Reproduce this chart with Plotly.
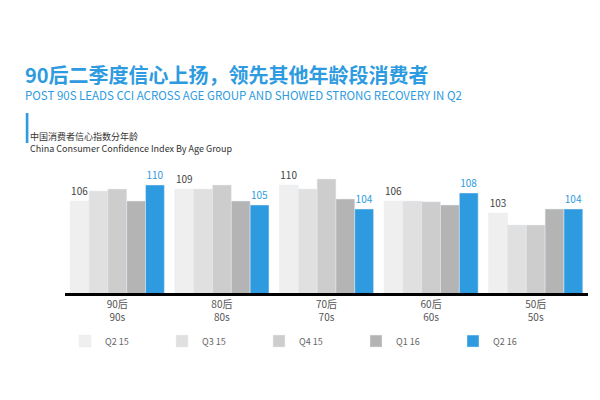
import plotly.graph_objects as go

groups = ['90后<br>90s', '80后<br>80s', '70后<br>70s', '60后<br>60s', '50后<br>50s']
quarters = ['Q2 15', 'Q3 15', 'Q4 15', 'Q1 16', 'Q2 16']
colors = ['#efefef', '#e0e0e0', '#cdcdcd', '#b4b4b4', '#2e9be0']

q2_15 = [106, 109, 110, 106, 103]
q3_15 = [108.5, 109, 109, 106, 100]
q4_15 = [109, 110, 111.5, 105.8, 100]
q1_16 = [106, 106, 106.5, 105, 104]
q2_16 = [110, 105, 104, 108, 104]
series = [q2_15, q3_15, q4_15, q1_16, q2_16]

fig = go.Figure()
for i, (name, vals) in enumerate(zip(quarters, series)):
    show_text = i in (0, 4)
    fig.add_trace(go.Bar(
        x=groups, y=vals, name=name, marker_color=colors[i],
        text=[f'{v:.0f}' for v in vals] if show_text else None,
        textposition='outside', cliponaxis=False,
        textfont=dict(size=10, color='#2e9be0' if i == 4 else '#444'),
    ))

fig.update_layout(
    width=600, height=400, barmode='group', bargap=0.1, bargroupgap=0,
    plot_bgcolor='white', paper_bgcolor='white',
    font=dict(family='Noto Sans CJK SC', color='#444'),
    margin=dict(l=57, r=20, t=165, b=115),
    yaxis=dict(range=[83, 113], visible=False),
    xaxis=dict(showline=True, linecolor='black', linewidth=3, ticks='',
               tickfont=dict(size=10, color='#555')),
    legend=dict(orientation='h', x=0.0, y=-0.28, xanchor='left', yanchor='top',
                font=dict(size=9, color='#666'), itemwidth=30,
                entrywidth=52, entrywidthmode='pixels'),
    showlegend=True,
)
fig.add_annotation(text='<b>90后二季度信心上扬，领先其他年龄段消费者</b>', xref='paper', yref='paper',
                   x=-0.08, y=1.96, xanchor='left', showarrow=False,
                   font=dict(size=20, color='#2e9be0'))
fig.add_annotation(text='POST 90S LEADS CCI ACROSS AGE GROUP AND SHOWED STRONG RECOVERY IN Q2',
                   xref='paper', yref='paper', x=-0.08, y=1.73, xanchor='left', showarrow=False,
                   font=dict(size=11.5, color='#2e9be0'))
fig.add_annotation(text='中国消费者信心指数分年龄<br>China Consumer Confidence Index By Age Group',
                   xref='paper', yref='paper', x=-0.07, y=1.375, xanchor='left', align='left',
                   showarrow=False, font=dict(size=9, color='#333'))
fig.add_shape(type='rect', xref='paper', yref='paper', x0=-0.075, x1=-0.07, y0=1.25, y1=1.5,
              fillcolor='#2e9be0', line_width=0)
fig.write_html('out.html')
